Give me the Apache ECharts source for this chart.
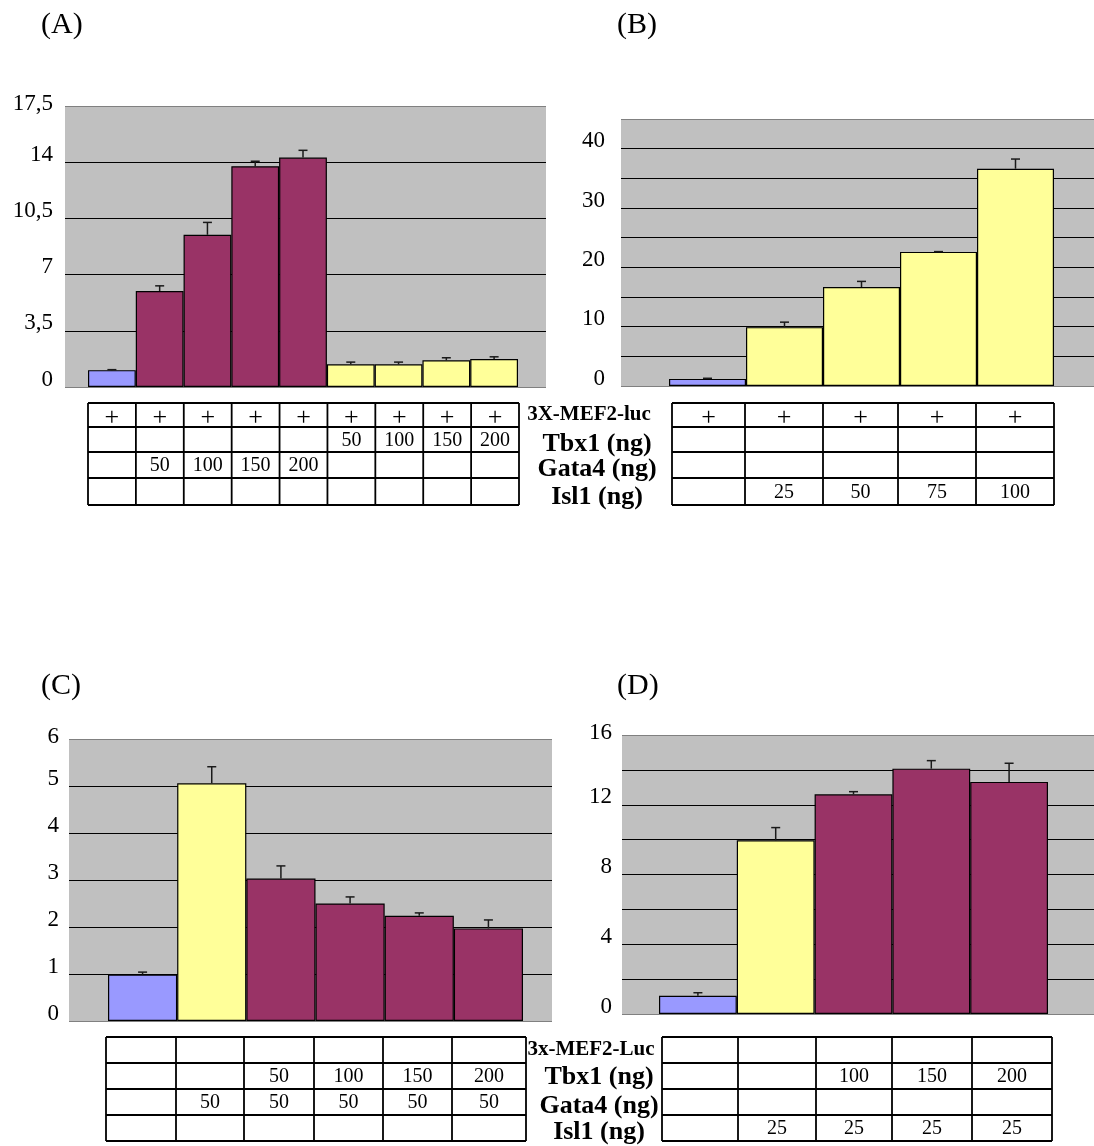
<!DOCTYPE html>
<html><head><meta charset="utf-8">
<script src="https://cdn.jsdelivr.net/npm/echarts@6/dist/echarts.min.js"></script>
<style>html,body{margin:0;padding:0;background:#fff}#c{width:1094px;height:1146px}</style>
</head><body><div id="c"></div>
<script>
// ---------------- DATA ----------------
// Panel A: 3X-MEF2-luc with Gata4 or Tbx1
const catsA   = ['ctrl','Gata4 50','Gata4 100','Gata4 150','Gata4 200','Tbx1 50','Tbx1 100','Tbx1 150','Tbx1 200'];
const groupsA = ['control','gata4','gata4','gata4','gata4','tbx1','tbx1','tbx1','tbx1'];
const valuesA = [1.05, 5.98, 9.48, 13.75, 14.29, 1.41, 1.41, 1.66, 1.74];
const errorsA = [0.03, 0.32, 0.77, 0.31, 0.45, 0.14, 0.14, 0.16, 0.14];
const tickValsA = [0, 3.5, 7, 10.5, 14, 17.5];
const tickLabsA = ['0', '3,5', '7', '10,5', '14', '17,5'];
const tblA = {
  mef2:  ['+','+','+','+','+','+','+','+','+'],
  tbx1:  ['','','','','','50','100','150','200'],
  gata4: ['','50','100','150','200','','','',''],
  isl1:  ['','','','','','','','','']
};

// Panel B: 3X-MEF2-luc with Isl1
const catsB   = ['ctrl','Isl1 25','Isl1 50','Isl1 75','Isl1 100'];
const groupsB = ['control','isl1','isl1','isl1','isl1'];
const valuesB = [1.2, 9.92, 16.68, 22.6, 36.62];
const errorsB = [0.1, 0.84, 0.95, 0.05, 1.63];
const tickValsB = [0, 10, 20, 30, 40];
const tickLabsB = ['0', '10', '20', '30', '40'];
const tblB = {
  mef2:  ['+','+','+','+','+'],
  tbx1:  ['','','','',''],
  gata4: ['','','','',''],
  isl1:  ['','25','50','75','100']
};

// Panel C: Gata4 50 + Tbx1
const catsC   = ['ctrl','Gata4','Gata4+Tbx1 50','Gata4+Tbx1 100','Gata4+Tbx1 150','Gata4+Tbx1 200'];
const groupsC = ['control','single','combo','combo','combo','combo'];
const valuesC = [0.99, 5.06, 3.03, 2.50, 2.24, 1.97];
const errorsC = [0.05, 0.35, 0.27, 0.14, 0.06, 0.18];
const tickValsC = [0, 1, 2, 3, 4, 5, 6];
const tickLabsC = ['0', '1', '2', '3', '4', '5', '6'];
const tblC = {
  mef2:  ['','','','','',''],
  tbx1:  ['','','50','100','150','200'],
  gata4: ['','50','50','50','50','50'],
  isl1:  ['','','','','','']
};

// Panel D: Isl1 25 + Tbx1
const catsD   = ['ctrl','Isl1','Isl1+Tbx1 100','Isl1+Tbx1 150','Isl1+Tbx1 200'];
const groupsD = ['control','single','combo','combo','combo'];
const valuesD = [1.05, 9.96, 12.60, 14.07, 13.31];
const errorsD = [0.17, 0.73, 0.15, 0.46, 1.07];
const tickValsD = [0, 4, 8, 12, 16];
const tickLabsD = ['0', '4', '8', '12', '16'];
const tblD = {
  mef2:  ['','','','',''],
  tbx1:  ['','','100','150','200'],
  gata4: ['','','','',''],
  isl1:  ['','25','25','25','25']
};

// ---------------- STYLE / LAYOUT ----------------
const BLUE = '#9999ff', YELLOW = '#ffff99', MAROON = '#993366', GRAY = '#c0c0c0';
const SERIF = '"Liberation Serif", "Times New Roman", serif';

const panels = [
  { title:'(A)', titleX:41, titleY:25, cats:catsA, groups:groupsA, values:valuesA, errors:errorsA,
    colors:{control:BLUE, gata4:MAROON, tbx1:YELLOW},
    yMax:17.5, yStep:3.5, tickVals:tickValsA, tickLabs:tickLabsA,
    bg:{left:65, top:106, width:481, height:281}, bars:{left:88, width:430}, labelMargin:12,
    table:tblA, cols:null, tx0:88, tx1:519, rows:[403,427,452,478,505] },
  { title:'(B)', titleX:617, titleY:25, cats:catsB, groups:groupsB, values:valuesB, errors:errorsB,
    colors:{control:BLUE, isl1:YELLOW},
    yMax:45, yStep:5, tickVals:tickValsB, tickLabs:tickLabsB,
    bg:{left:621, top:119, width:473, height:267}, bars:{left:669, width:385}, labelMargin:16,
    table:tblB, cols:[672,745,823,898,976,1054], rows:[403,427,452,478,505] },
  { title:'(C)', titleX:41, titleY:686, cats:catsC, groups:groupsC, values:valuesC, errors:errorsC,
    colors:{control:BLUE, single:YELLOW, combo:MAROON},
    yMax:6, yStep:1, tickVals:tickValsC, tickLabs:tickLabsC,
    bg:{left:69, top:739, width:483, height:282}, bars:{left:108, width:415}, labelMargin:10,
    table:tblC, cols:[106,176,244,314,383,452,526], rows:[1037,1063,1089,1115,1141] },
  { title:'(D)', titleX:617, titleY:686, cats:catsD, groups:groupsD, values:valuesD, errors:errorsD,
    colors:{control:BLUE, single:YELLOW, combo:MAROON},
    yMax:16, yStep:2, tickVals:tickValsD, tickLabs:tickLabsD,
    bg:{left:622, top:735, width:472, height:279}, bars:{left:659, width:389}, labelMargin:10,
    table:tblD, cols:[662,738,816,892,972,1052], rows:[1037,1063,1089,1115,1141] }
];

const rowLabelsTop = [
  {x:589, ys:[415, 444, 469, 497], small:'3X-MEF2-luc'},
  {x:591, ys:[1050, 1077, 1106, 1132], small:'3x-MEF2-Luc'}
];
const rowNames = ['Tbx1 (ng)', 'Gata4 (ng)', 'Isl1 (ng)'];

// ---------------- BUILD ----------------
const grid = [], xAxis = [], yAxis = [], series = [], graphic = [];
const labFont = { fontFamily:SERIF, fontSize:23, color:'#000' };

panels.forEach((p, pi) => {
  const gBg = grid.length;
  grid.push({ left:p.bg.left, top:p.bg.top, width:p.bg.width, height:p.bg.height,
              show:true, backgroundColor:GRAY, borderWidth:0, containLabel:false });
  grid.push({ left:p.bars.left, top:p.bg.top, width:p.bars.width, height:p.bg.height, containLabel:false });
  const nLines = Math.round(p.yMax / p.yStep) + 1;
  const lineColors = [];
  for (let i = 0; i < nLines; i++) lineColors.push(i === 0 || i === nLines - 1 ? '#808080' : '#000000');

  xAxis.push({ gridIndex:gBg, type:'category', data:['x'], show:false });
  yAxis.push({ gridIndex:gBg, type:'value', min:0, max:p.yMax, interval:p.yStep,
    axisLine:{show:false}, axisTick:{show:false},
    splitLine:{show:true, showMinLine:true, showMaxLine:true, lineStyle:{color:lineColors, width:1}},
    axisLabel:{ show:true, color:'#000', fontFamily:SERIF, fontSize:23, margin:p.labelMargin,
      showMinLabel:true, showMaxLabel:true, verticalAlign:'bottom',
      rich:{ n:Object.assign({lineHeight:15}, labFont), t:Object.assign({lineHeight:4}, labFont) },
      formatter:(v) => {
        const k = p.tickVals.findIndex(t => Math.abs(t - v) < 1e-6);
        if (k < 0) return '';
        return (Math.abs(v - p.yMax) < 1e-6 ? '{t|' : '{n|') + p.tickLabs[k] + '}';
      } } });

  const xi = xAxis.length;
  xAxis.push({ gridIndex:gBg + 1, type:'category', data:p.cats, show:false, boundaryGap:true });
  const yi = yAxis.length;
  yAxis.push({ gridIndex:gBg + 1, type:'value', min:0, max:p.yMax, show:false, splitLine:{show:false} });

  series.push({
    type:'bar', xAxisIndex:xi, yAxisIndex:yi, barCategoryGap:'0%', z:3,
    data:p.values.map((v, i) => ({ value:v, itemStyle:{ color:p.colors[p.groups[i]], borderColor:'#000', borderWidth:1.2 } })),
    animation:false
  });
  series.push({
    type:'custom', xAxisIndex:xi, yAxisIndex:yi, z:4, animation:false,
    data:p.values.map((v, i) => [i, v, v + p.errors[i]]),
    renderItem:(params, api) => {
      const b = api.coord([api.value(0), api.value(1)]);
      const t = api.coord([api.value(0), api.value(2)]);
      const st = { stroke:'#1a1a1a', lineWidth:1.5 };
      return { type:'group', children:[
        { type:'line', shape:{x1:b[0], y1:b[1], x2:t[0], y2:t[1]}, style:st },
        { type:'line', shape:{x1:t[0] - 4.5, y1:t[1], x2:t[0] + 4.5, y2:t[1]}, style:st }
      ]};
    }
  });

  // panel title
  graphic.push({ type:'text', x:p.titleX, y:p.titleY,
    style:{ text:p.title, font:'30px ' + SERIF, fill:'#000', align:'left', verticalAlign:'middle' } });

  // table
  const n = p.cats.length;
  const cols = p.cols || Array.from({length:n + 1}, (_, i) => p.tx0 + (p.tx1 - p.tx0) * i / n);
  const rows = p.rows;
  const lineSt = { stroke:'#000', lineWidth:1.8 };
  rows.forEach(y => graphic.push({ type:'line', shape:{x1:cols[0], y1:y, x2:cols[n], y2:y}, style:lineSt }));
  cols.forEach(x => graphic.push({ type:'line', shape:{x1:x, y1:rows[0], x2:x, y2:rows[4]}, style:lineSt }));
  const tRows = [p.table.mef2, p.table.tbx1, p.table.gata4, p.table.isl1];
  tRows.forEach((r, ri) => r.forEach((txt, ci) => {
    if (!txt) return;
    const plus = txt === '+';
    graphic.push({ type:'text', x:(cols[ci] + cols[ci + 1]) / 2, y:(rows[ri] + rows[ri + 1]) / 2 + (plus ? 3 : 1),
      style:{ text:txt, font:(plus ? '26px ' : '20px ') + SERIF, fill:'#000', align:'center', verticalAlign:'middle' } });
  }));
});

rowLabelsTop.forEach(rl => {
  graphic.push({ type:'text', x:rl.x, y:rl.ys[0],
    style:{ text:rl.small, font:'bold 21px ' + SERIF, fill:'#000', align:'center', verticalAlign:'middle' } });
  rowNames.forEach((nm, i) => graphic.push({ type:'text', x:rl.x + 8, y:rl.ys[i + 1],
    style:{ text:nm, font:'bold 26px ' + SERIF, fill:'#000', align:'center', verticalAlign:'middle' } }));
});

const chart = echarts.init(document.getElementById('c'), null, { renderer:'canvas' });
chart.setOption({ backgroundColor:'#fff', animation:false, grid, xAxis, yAxis, series, graphic });
</script></body></html>
